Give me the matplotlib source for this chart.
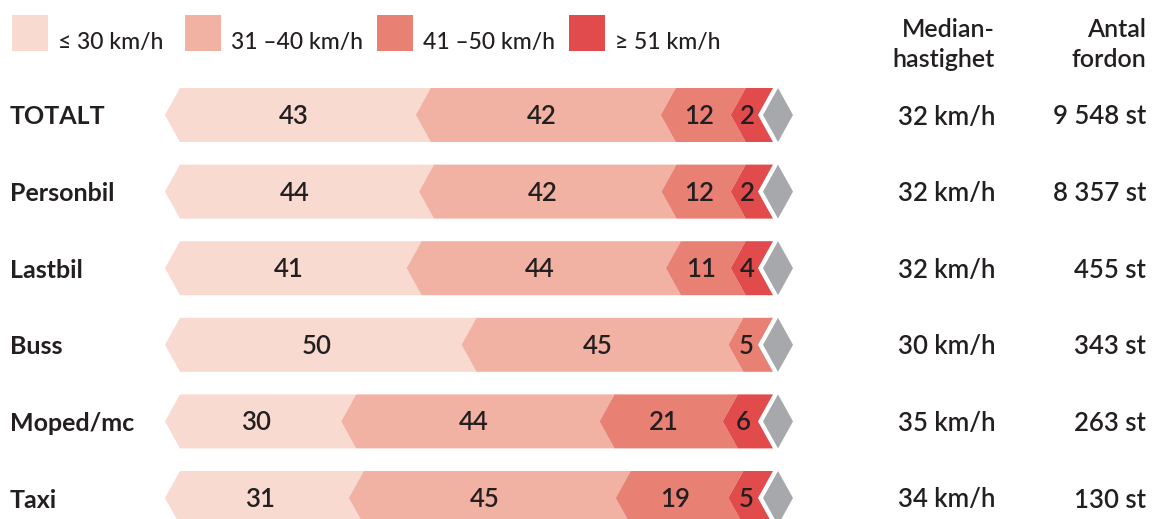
import matplotlib
matplotlib.use("Agg")
import matplotlib.pyplot as plt
from matplotlib.patches import Polygon

plt.rcParams['font.family'] = ['Lato', 'DejaVu Sans']

# data
categories = ['TOTALT', 'Personbil', 'Lastbil', 'Buss', 'Moped/mc', 'Taxi']
v30 = [43, 44, 41, 50, 30, 31]
v40 = [42, 42, 44, 45, 44, 45]
v50 = [12, 12, 11, 5, 21, 19]
v51 = [2, 2, 4, 0, 6, 5]
median_speed = [32, 32, 32, 30, 35, 34]
vehicles = ['9 548', '8 357', '455', '343', '263', '130']

legend_labels = ['≤ 30 km/h', '31 –40 km/h', '41 –50 km/h', '≥ 51 km/h']
colors = ['#F8DAD1', '#F2B2A3', '#E88173', '#E14B4C']
gray = '#A7A8AC'
ink = '#231F20'

W, H = 1152, 519
fig = plt.figure(figsize=(W / 100, H / 100), dpi=100)
ax = fig.add_axes([0, 0, 1, 1])

# scale: 0..100 % -> 165..758 px, rows every 76.6 px starting at 115 px
kx = 5.93
ky = 76.6
ax.set_xlim(-165 / kx, (W - 165) / kx)
ax.set_ylim((H - 115) / ky, -115 / ky)
ax.axis('off')

d = 15 / kx      # chevron depth
hh = 27 / ky     # half bar height
gap = 5 / kx
min_w = 4.6      # small segments are widened so the number fits


def fpos(x, y):
    return x / W, 1 - y / H


def chevron(a, b, y, color):
    pts = [(a, y), (a + d, y - hh), (b + d, y - hh), (b, y),
           (b + d, y + hh), (a + d, y + hh)]
    ax.add_patch(Polygon(pts, closed=True, facecolor=color,
                         edgecolor='none', clip_on=False))


def side_text(x, y, s, ha, weight, size=18.5):
    ax.annotate(s, xy=fpos(x, y), xycoords='figure fraction',
                xytext=(0, -9.5 * 0.72), textcoords='offset points',
                ha=ha, va='baseline', fontsize=size, fontweight=weight, color=ink)


for i, cat in enumerate(categories):
    vals = [v30[i], v40[i], v50[i], v51[i]]
    shown = [v for v in vals if v > 0]
    small = [v for v in shown if v / sum(shown) * 100 < min_w]
    rest = sum(shown) - sum(small)
    k = (100 - min_w * len(small)) / rest
    start = 0
    for v, c in zip(vals, colors):
        if v == 0:
            continue
        w = min_w if v in small else v * k
        chevron(start, start + w, i, c)
        ax.annotate(str(v), xy=(start + w / 2 + 0.5, i), xytext=(0, -9 * 0.72),
                    textcoords='offset points', ha='center', va='baseline',
                    fontsize=18.5, fontweight=600, color=ink, annotation_clip=False)
        start += w
    # grey diamond at the end
    c = 100 + gap + d
    ax.add_patch(Polygon([(c - d, i), (c, i - hh), (c + d, i), (c, i + hh)],
                         closed=True, facecolor=gray, edgecolor='none', clip_on=False))
    # row label and side columns
    y = 115 + ky * i
    side_text(10, y, cat, 'left', 'bold', 18)
    side_text(995, y, f'{median_speed[i]} km/h', 'right', 600)
    side_text(1146, y, f'{vehicles[i]} st', 'right', 600)

# column headers
for x, lines in [(995, ['Median-', 'hastighet']), (1146, ['Antal', 'fordon'])]:
    for y, s in zip([37, 67], lines):
        fig.text(*fpos(x, y), s, ha='right', va='baseline', fontsize=18,
                 fontweight=600, color=ink)

# legend
sq_x = [12, 185, 377, 569]
for x, lab, c in zip(sq_x, legend_labels, colors):
    fig.patches.append(plt.Rectangle(fpos(x, 51), 36 / W, 36 / H,
                                     transform=fig.transFigure,
                                     facecolor=c, edgecolor='none'))
    fig.text(*fpos(x + 46, 49), lab, ha='left', va='baseline',
             fontsize=16.5, fontweight=500, color=ink)

fig.savefig('out.png', dpi=100)
